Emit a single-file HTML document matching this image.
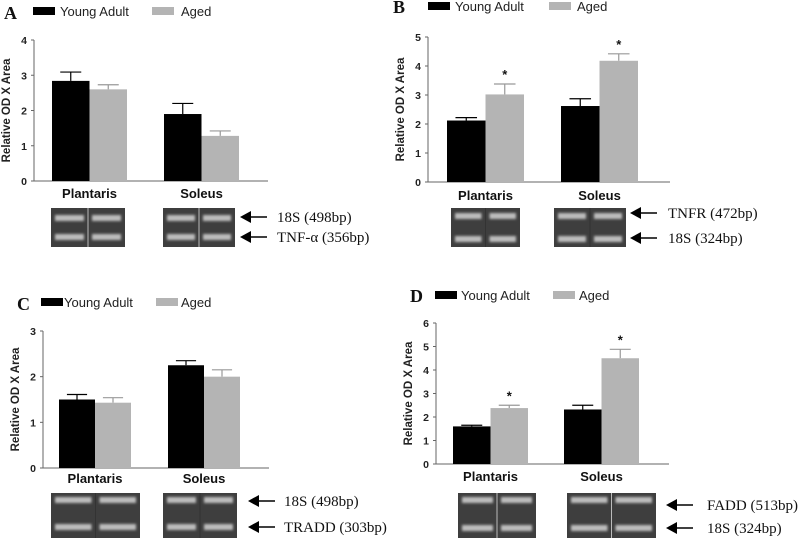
<!DOCTYPE html>
<html><head><meta charset="utf-8">
<style>
html,body{margin:0;padding:0;background:#fff;}
svg{display:block;}
.tk{font-family:"Liberation Sans",sans-serif;font-weight:bold;font-size:10.5px;fill:#222;}
.cat{font-family:"Liberation Sans",sans-serif;font-weight:bold;font-size:13px;fill:#111;}
.yt{font-family:"Liberation Sans",sans-serif;font-weight:bold;font-size:11.5px;fill:#222;}
.leg{font-family:"Liberation Sans",sans-serif;font-size:13px;fill:#222;}
.pl{font-family:"Liberation Serif",serif;font-weight:bold;font-size:18px;fill:#111;}
.gl{font-family:"Liberation Serif",serif;font-size:15px;fill:#111;}
</style></head>
<body>
<svg id="fig" width="800" height="539" viewBox="0 0 800 539" xmlns="http://www.w3.org/2000/svg">
<defs><filter id="bl" x="-20%" y="-100%" width="140%" height="300%"><feGaussianBlur stdDeviation="1.3"/></filter></defs>
</svg>
<script>
const categories = ["Plantaris","Soleus"];
const aYoung = [2.84, 1.9];   const aYoungErr = [0.25, 0.3];
const aAged  = [2.6, 1.28];   const aAgedErr  = [0.13, 0.14];
const aTicks = [0,1,2,3,4];
const bYoung = [2.12, 2.62];  const bYoungErr = [0.1, 0.25];
const bAged  = [3.02, 4.18];  const bAgedErr  = [0.36, 0.24];
const bTicks = [0,1,2,3,4,5];
const cYoung = [1.5, 2.25];   const cYoungErr = [0.11, 0.1];
const cAged  = [1.43, 2.0];   const cAgedErr  = [0.11, 0.15];
const cTicks = [0,1,2,3];
const dYoung = [1.6, 2.32];   const dYoungErr = [0.05, 0.18];
const dAged  = [2.38, 4.5];   const dAgedErr  = [0.12, 0.38];
const dTicks = [0,1,2,3,4,5,6];
const bStars = [false,true,false,true];
const dStars = [false,true,false,true];

const NS="http://www.w3.org/2000/svg";
const svg=document.getElementById('fig');
function mk(tag,attrs,parent,text){const e=document.createElementNS(NS,tag);for(const k in attrs)e.setAttribute(k,attrs[k]);if(text!==undefined)e.textContent=text;(parent||svg).appendChild(e);return e;}

function panel(o){
  const g=mk('g',{});
  
  
  const max=o.ticks[o.ticks.length-1];
  const y=v=>o.y0-(o.y0-o.ytop)*v/max;
  const L=mk('text',{x:o.lx,y:o.ly,class:'pl'},g,o.id);
  
  
  const lb=mk('rect',{x:o.leg[0],y:o.legy-4,width:22,height:8,fill:'#000'},g);
  
  
  const lt=mk('text',{x:o.leg[1],y:o.legy+5,class:'leg','font-size':o.legfs},g,'Young Adult');
  
  
  const lg=mk('rect',{x:o.leg[2],y:o.legy-4,width:22,height:8,fill:'#b4b4b4'},g);
  
  
  const la=mk('text',{x:o.leg[3],y:o.legy+5,class:'leg','font-size':o.legfs},g,'Aged');
  
  
  const ya=mk('line',{x1:o.x0,y1:o.ytop,x2:o.x0,y2:o.y0,stroke:'#666','stroke-width':1},g);
  
  
  const xa=mk('line',{x1:o.x0,y1:o.y0,x2:o.xend,y2:o.y0,stroke:'#666','stroke-width':1},g);
  
  
  o.ticks.forEach(t=>{
    const tl=mk('line',{x1:o.x0-3,y1:y(t),x2:o.x0,y2:y(t),stroke:'#666'},g);
    
    
    const tt=mk('text',{x:o.x0-7,y:y(t)+4,class:'tk','text-anchor':'end'},g,String(t));
    
    
  });
  const ty=(o.y0+o.ytop)/2;
  const yt=mk('text',{x:o.x0-24,y:ty,class:'yt','text-anchor':'middle',transform:`rotate(-90 ${o.x0-24} ${ty})`},g,'Relative OD X Area');
  
  
  categories.forEach((c,i)=>{
    const bx=o.bx[i];
    const series=[[o.young[i],o.youngErr[i],'#000','young'],[o.aged[i],o.agedErr[i],'#b4b4b4','aged']];
    series.forEach((s,j)=>{
      const x=bx+j*o.bw;
      const top=y(s[0]), et=y(s[0]+s[1]);
      const cx=x+o.bw/2;
      const col=s[2]==='#000'?'#000':'#999';
      const el=mk('line',{x1:cx,y1:top,x2:cx,y2:et,stroke:col,'stroke-width':1.2},g);
      
      
      const ec=mk('line',{x1:cx-o.bw*0.28,y1:et,x2:cx+o.bw*0.28,y2:et,stroke:col,'stroke-width':1.2},g);
      
      
      const r=mk('rect',{x:x,y:top,width:o.bw,height:o.y0-top,fill:s[2]},g);
      
      
      if(o.stars && o.stars[i*2+j]){
        const st=mk('text',{x:cx,y:et-5,class:'cat','text-anchor':'middle','font-size':15},g,'*');
        
        
      }
    });
    const cl=mk('text',{x:bx+o.bw,y:o.caty,class:'cat','text-anchor':'middle'},g,c);
    
    
  });
  o.gels.forEach((gl,k)=>{
    const gg=mk('g',{},g);
    
    
    mk('rect',{x:gl[0],y:o.gy,width:gl[1],height:o.gh,fill:'#3e3e3e'},gg);
    const lw=gl[1]/2;
    [0,1].forEach(l=>{
      o.bandY.forEach(by=>{
        mk('rect',{x:gl[0]+l*lw+4,y:by-3,width:lw-8,height:6,fill:'#bdbdbd',filter:'url(#bl)'},gg);
      });
    });
    mk('line',{x1:gl[0]+lw,y1:o.gy,x2:gl[0]+lw,y2:o.gy+o.gh,stroke:o.sep?'#bbb':'#333','stroke-width':1},gg);
  });
  o.labels.forEach((t,k)=>{
    const by=o.labelY[k];
    const ar=mk('g',{},g);
    
    
    mk('line',{x1:o.ax+8,y1:by,x2:o.ax+27,y2:by,stroke:'#000','stroke-width':1.4},ar);
    mk('polygon',{points:`${o.ax},${by} ${o.ax+11},${by-6} ${o.ax+11},${by+6}`,fill:'#000'},ar);
    const tx=mk('text',{x:o.tx,y:by+5,class:'gl'},g,t);
    
    
  });
}

panel({id:'A',lx:4,ly:19,leg:[33,60,152,181],legy:11,legfs:13,x0:34,y0:181,ytop:40,xend:268,ticks:aTicks,
  young:aYoung,youngErr:aYoungErr,aged:aAged,agedErr:aAgedErr,bx:[52,164],bw:37.5,caty:198,
  gels:[[51,74],[163,72]],gy:208,gh:39,bandY:[218,237],sep:true,ax:240,tx:277,labelY:[217,237],labels:['18S (498bp)','TNF-α (356bp)']});
panel({id:'B',lx:393,ly:13,leg:[428,455,549,577],legy:6,legfs:13,x0:428,y0:182,ytop:37,xend:670,ticks:bTicks,stars:bStars,
  young:bYoung,youngErr:bYoungErr,aged:bAged,agedErr:bAgedErr,bx:[447,561],bw:38.5,caty:200,
  gels:[[451,69],[554,72]],gy:208,gh:39,bandY:[216,239],sep:false,ax:630,tx:668,labelY:[213,238],labels:['TNFR (472bp)','18S (324bp)']});
panel({id:'C',lx:17,ly:310,leg:[41,64,156,181],legy:302,legfs:12,x0:43,y0:468,ytop:331,xend:269,ticks:cTicks,
  young:cYoung,youngErr:cYoungErr,aged:cAged,agedErr:cAgedErr,bx:[59,168],bw:36,caty:483,
  gels:[[51,89],[163,74]],gy:493,gh:45,bandY:[500,527],sep:false,ax:248,tx:284,labelY:[501,527],labels:['18S (498bp)','TRADD (303bp)']});
panel({id:'D',lx:410,ly:302,leg:[435,461,553,579],legy:295,legfs:12,x0:436,y0:464,ytop:323,xend:669,ticks:dTicks,stars:dStars,
  young:dYoung,youngErr:dYoungErr,aged:dAged,agedErr:dAgedErr,bx:[453,564],bw:37.5,caty:481,
  gels:[[458,78],[567,89]],gy:493,gh:45,bandY:[500,528],sep:true,ax:666,tx:707,labelY:[505,528],labels:['FADD (513bp)','18S (324bp)']});
</script>
</body></html>
